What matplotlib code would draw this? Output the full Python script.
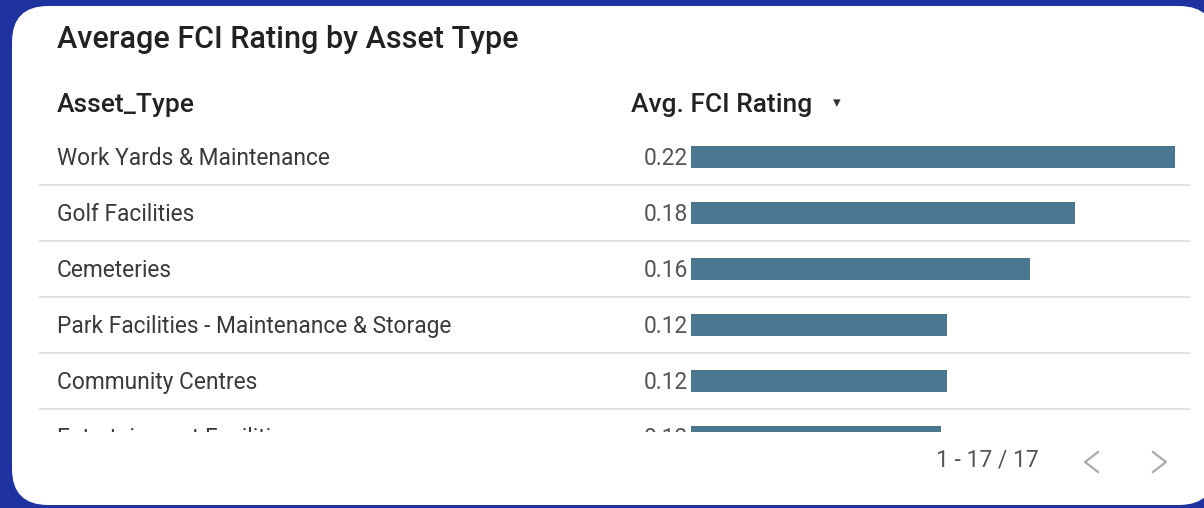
import matplotlib.pyplot as plt
from matplotlib.patches import FancyBboxPatch
from matplotlib.lines import Line2D

# table data
asset_types = ["Work Yards & Maintenance", "Golf Facilities", "Cemeteries",
               "Park Facilities - Maintenance & Storage", "Community Centres",
               "Entertainment Facilities"]
avg_fci = [0.223, 0.177, 0.156, 0.118, 0.118, 0.115]
title = "Average FCI Rating by Asset Type"
col_headers = ["Asset_Type", "Avg. FCI Rating"]
pager = "1 - 17 / 17"

W, H = 1204, 508
plt.rcParams['font.family'] = ['Roboto', 'DejaVu Sans']

fig = plt.figure(figsize=(W / 100, H / 100), dpi=100)
fig.patch.set_facecolor("#1e33a0")

def fx(x):
    return x / W

def fy(y):
    return 1 - y / H

# white card
card = FancyBboxPatch((fx(12), fy(505)), fx(1215) - fx(12), fy(6) - fy(505),
                      boxstyle="round,pad=0,rounding_size=0.03",
                      transform=fig.transFigure, facecolor="white",
                      edgecolor="none", mutation_aspect=W / H, zorder=-10)
fig.patches.append(card)

fig.text(fx(57), fy(40), title, fontsize=22, fontweight="medium",
         color="#222222", va="center", ha="left")
fig.text(fx(57), fy(105), col_headers[0], fontsize=19, fontweight="medium",
         color="#222222", va="center", ha="left")
fig.text(fx(631), fy(105), col_headers[1], fontsize=19, fontweight="medium",
         color="#222222", va="center", ha="left")
fig.text(fx(837), fy(103), "\u25BE", fontsize=11, color="#333333",
         va="center", ha="center", family="DejaVu Sans")

# body area
top, bottom = 129, 432
pitch, first = 56, 157
ylim = ((bottom - first) / pitch, (top - first) / pitch)
pos_y = fy(bottom)
pos_h = (bottom - top) / H

ax = fig.add_axes([0, pos_y, 1, pos_h])
ax.set_xlim(0, W)
ax.set_ylim(*ylim)
ax.axis("off")
ax.patch.set_alpha(0)
for i, (name, v) in enumerate(zip(asset_types, avg_fci)):
    ax.text(57, i + 0.02, name, fontsize=16.4, color="#3a3a3a", va="center",
            ha="left", clip_on=True)
    ax.text(688, i + 0.02, f"{v:.2f}", fontsize=16.4, color="#555555",
            va="center", ha="right", clip_on=True)
    if i < len(asset_types) - 1:
        ax.plot([40, 1190], [i + 0.5, i + 0.5], color="#dddddd", lw=1.2)

bx = fig.add_axes([fx(691), pos_y, (1175 - 691) / W, pos_h])
bx.barh(range(len(avg_fci)), avg_fci, height=0.4, color="#4b768f")
bx.set_xlim(0, max(avg_fci))
bx.set_ylim(*ylim)
bx.axis("off")
bx.patch.set_alpha(0)

fig.text(fx(987), fy(460), pager, fontsize=16.5, color="#555555",
         va="center", ha="center")
# pager chevrons
fig.add_artist(Line2D([fx(1098), fx(1085), fx(1098)], [fy(452), fy(462), fy(472)],
                      color="#aaaaaa", lw=1.6))
fig.add_artist(Line2D([fx(1153), fx(1166), fx(1153)], [fy(452), fy(462), fy(472)],
                      color="#aaaaaa", lw=1.6))

fig.savefig("out.png", dpi=100, facecolor=fig.get_facecolor())
